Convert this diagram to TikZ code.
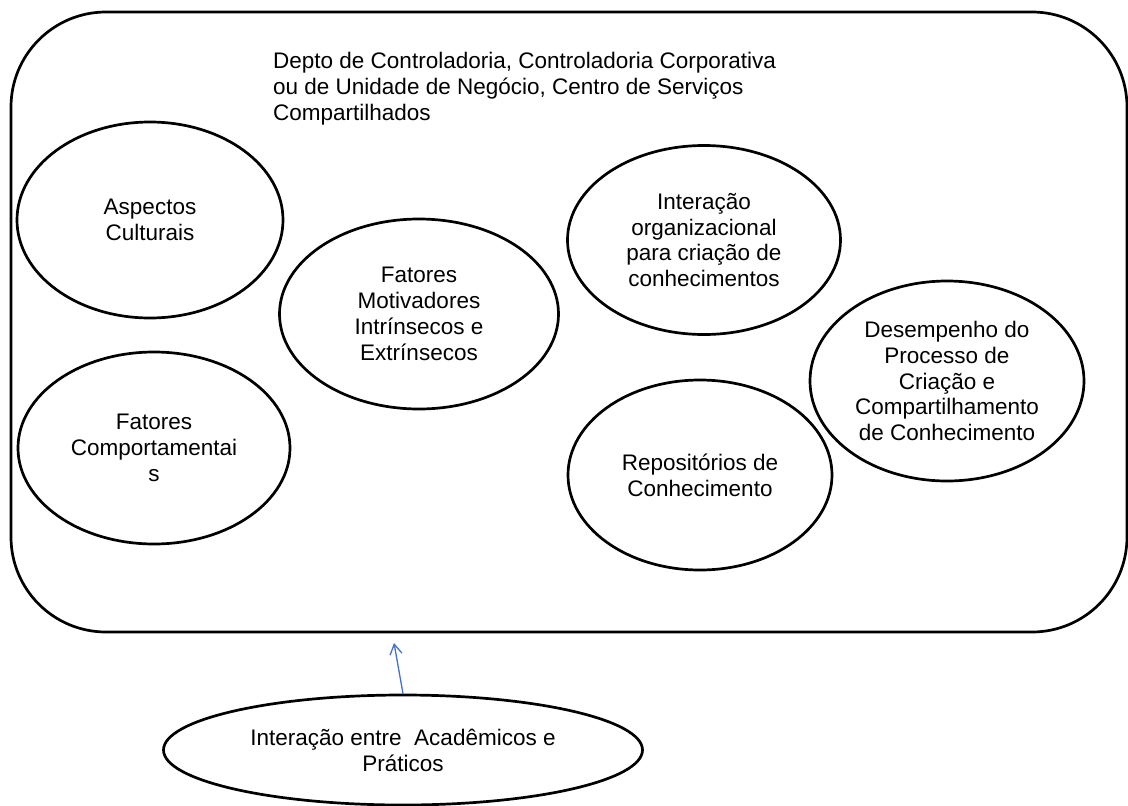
\documentclass[tikz,border=0pt]{standalone}
\usepackage{fontspec}
\setmainfont{Liberation Sans}
\usetikzlibrary{shapes.geometric,arrows.meta}
\definecolor{arrowblue}{HTML}{4472C4}
\tikzset{
  oval/.style={draw=black, line width=2.7pt, ellipse, inner sep=0pt, align=center,
    font=\fontsize{22.5}{25.9}\selectfont},
  frame/.style={draw=black, line width=2.7pt, rounded corners=95pt, inner sep=0pt},
  link/.style={draw=arrowblue, line width=1.3pt, -{Straight Barb[length=10pt,width=12pt,line width=1.3pt]}}
}
\begin{document}
\begin{tikzpicture}[x=1pt,y=-1pt]
\useasboundingbox (0,0) rectangle (1128,806);
\node[frame, minimum width=1116pt, minimum height=620pt] (box) at (569,322) {};
\node[anchor=north west, inner sep=0pt, align=left, font=\fontsize{22.5}{25.9}\selectfont] (title) at (273,52)
  {Depto de Controladoria, Controladoria Corporativa\\ou de Unidade de Negócio, Centro de Serviços\\Compartilhados};
\node[oval, minimum width=266pt, minimum height=196pt] (cult) at (150,220) {Aspectos\\Culturais};
\node[oval, minimum width=272pt, minimum height=192pt] (comp) at (154,448) {Fatores\\Comportamentai\\s};
\node[oval, minimum width=279pt, minimum height=190pt] (motiv) at (419,314) {Fatores\\Motivadores\\Intrínsecos e\\Extrínsecos};
\node[oval, minimum width=273pt, minimum height=189pt] (inter) at (704,240) {Interação\\organizacional\\para criação de\\conhecimentos};
\node[oval, minimum width=264pt, minimum height=190pt] (repo) at (700,475) {Repositórios de\\Conhecimento};
\node[oval, minimum width=274pt, minimum height=200pt] (desemp) at (947,381) {Desempenho do\\Processo de\\Criação e\\Compartilhamento\\de Conhecimento};
\node[oval, minimum width=479pt, minimum height=110pt] (acad) at (403,750) {Interação entre\ \ Acadêmicos e\\Práticos};
\coordinate (tip) at (394,643);
\draw[link] (acad.north) -- (tip);
\end{tikzpicture}
\end{document}
